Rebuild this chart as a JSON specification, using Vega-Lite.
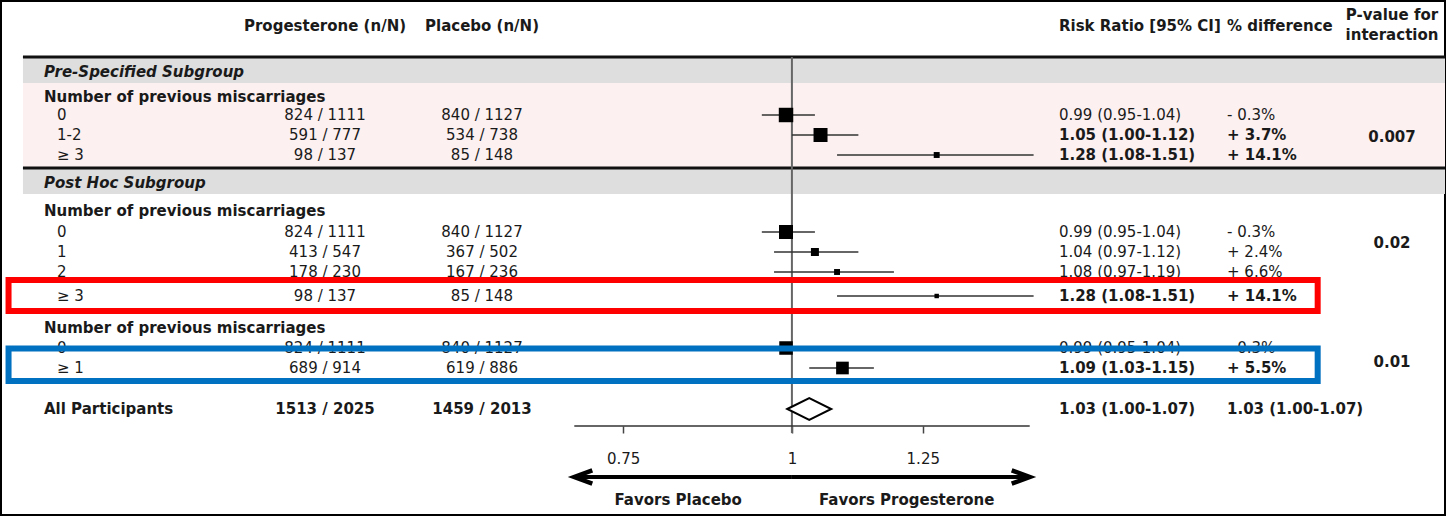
{
  "$schema": "https://vega.github.io/schema/vega-lite/v6.json",
  "width": 1449,
  "height": 516,
  "autosize": {"type": "fit", "contains": "padding"},
  "padding": {"left": 1, "top": 1, "right": 2, "bottom": 1},
  "background": "white",
  "config": {
    "view": {"stroke": "#000", "strokeWidth": 2},
    "text": {"font": "DejaVu Sans", "fontSize": 15, "color": "#1a1a1a", "baseline": "middle"}
  },
  "datasets": {
    "rows": [
      {"r": 1.25, "kind": "header", "label": "", "prog": "Progesterone (n/N)", "plac": "Placebo (n/N)", "ci": "Risk Ratio [95% CI]", "pct": "% difference"},
      {"r": 3.55, "kind": "section", "label": "Pre-Specified Subgroup"},
      {"r": 4.8, "kind": "group", "label": "Number of previous miscarriages"},
      {"r": 5.7, "kind": "item", "label": "0", "prog": "824 / 1111", "plac": "840 / 1127", "rr": 0.99, "lo": 0.95, "hi": 1.04, "ci": "0.99 (0.95-1.04)", "pct": "- 0.3%", "w": 95},
      {"r": 6.7, "kind": "item", "label": "1-2", "prog": "591 / 777", "plac": "534 / 738", "rr": 1.05, "lo": 1.0, "hi": 1.12, "ci": "1.05 (1.00-1.12)", "pct": "+ 3.7%", "w": 89},
      {"r": 7.7, "kind": "item", "label": "≥ 3", "prog": "98 / 137", "plac": "85 / 148", "rr": 1.28, "lo": 1.08, "hi": 1.51, "ci": "1.28 (1.08-1.51)", "pct": "+ 14.1%", "w": 16},
      {"r": 9.1, "kind": "section", "label": "Post Hoc Subgroup"},
      {"r": 10.5, "kind": "group", "label": "Number of previous miscarriages"},
      {"r": 11.55, "kind": "item", "label": "\u00a0\u00a00", "prog": "824 / 1111", "plac": "840 / 1127", "rr": 0.99, "lo": 0.95, "hi": 1.04, "ci": "0.99 (0.95-1.04)", "pct": "- 0.3%", "w": 89},
      {"r": 12.55, "kind": "item", "label": "\u00a0\u00a01", "prog": "413 / 547", "plac": "367 / 502", "rr": 1.04, "lo": 0.97, "hi": 1.12, "ci": "1.04 (0.97-1.12)", "pct": "+ 2.4%", "w": 29},
      {"r": 13.55, "kind": "item", "label": "\u00a0\u00a02", "prog": "178 / 230", "plac": "167 / 236", "rr": 1.08, "lo": 0.97, "hi": 1.19, "ci": "1.08 (0.97-1.19)", "pct": "+ 6.6%", "w": 16},
      {"r": 14.75, "kind": "item", "label": "≥ 3", "prog": "98 / 137", "plac": "85 / 148", "rr": 1.28, "lo": 1.08, "hi": 1.51, "ci": "1.28 (1.08-1.51)", "pct": "+ 14.1%", "w": 9},
      {"r": 16.35, "kind": "group", "label": "Number of previous miscarriages"},
      {"r": 17.35, "kind": "item", "label": "\u00a0\u00a00", "prog": "824 / 1111", "plac": "840 / 1127", "rr": 0.99, "lo": 0.95, "hi": 1.04, "ci": "0.99 (0.95-1.04)", "pct": "- 0.3%", "w": 83},
      {"r": 18.35, "kind": "item", "label": "≥ 1", "prog": "689 / 914", "plac": "619 / 886", "rr": 1.09, "lo": 1.03, "hi": 1.15, "ci": "1.09 (1.03-1.15)", "pct": "+ 5.5%", "w": 73},
      {"r": 20.4, "kind": "total", "label": "All Participants", "prog": "1513 / 2025", "plac": "1459 / 2013", "rr": 1.03, "lo": 1.0, "hi": 1.07, "ci": "1.03 (1.00-1.07)", "pct": "1.03 (1.00-1.07)"}
    ],
    "pvals": [
      {"r": 0.7, "p": "P-value for\ninteraction"},
      {"r": 6.8, "p": "0.007"},
      {"r": 12.1, "p": "0.02"},
      {"r": 18.05, "p": "0.01"}
    ],
    "bands": [
      {"r1": 2.8, "r2": 4.1, "zone": "header"},
      {"r1": 4.1, "r2": 8.35, "zone": "pre"},
      {"r1": 8.35, "r2": 9.65, "zone": "header"}
    ],
    "hlines": [{"r": 2.8}, {"r": 8.35}],
    "arrows": [
      {"from": 1, "to": 0.69, "dir": "left", "label": "Favors Placebo", "r": 23.8},
      {"from": 1, "to": 1.5, "dir": "right", "label": "Favors Progesterone", "r": 23.8}
    ],
    "boxes": [
      {"r1": 13.95, "r2": 15.5, "box": "A"},
      {"r1": 17.375, "r2": 19.0, "box": "B"}
    ]
  },
  "layer": [
    {
      "data": {"name": "bands"},
      "mark": {"type": "rect"},
      "encoding": {
        "x": {"datum": 0.2695, "type": "quantitative", "scale": {"type": "log", "domain": [0.2596, 3.0453], "nice": false},
          "axis": {"values": [0.75, 1, 1.25], "format": "~g", "offset": -89, "domain": false, "grid": false, "ticks": true, "tickSize": 7, "tickColor": "#444", "tickWidth": 1.5, "labelFont": "DejaVu Sans", "labelFontSize": 15, "labelColor": "#1a1a1a", "labelPadding": 18, "title": null, "labelFlush": false, "labelOverlap": false}},
        "x2": {"datum": 3.0453},
        "y": {"field": "r1", "type": "quantitative", "scale": {"domain": [0, 25.7], "reverse": true, "nice": false, "zero": false}, "axis": null},
        "y2": {"field": "r2"},
        "fill": {"field": "zone", "type": "nominal", "scale": {"domain": ["header", "pre"], "range": ["#dedede", "#fcf0f0"]}, "legend": null}
      }
    },
    {
      "data": {"name": "hlines"},
      "mark": {"type": "rule", "color": "#111", "strokeWidth": 3},
      "encoding": {
        "x": {"datum": 0.2695, "type": "quantitative", "scale": {"type": "log", "domain": [0.2596, 3.0453], "nice": false}},
        "x2": {"datum": 3.0453},
        "y": {"field": "r", "type": "quantitative", "scale": {"domain": [0, 25.7], "reverse": true, "nice": false, "zero": false}, "axis": null}
      }
    },
    {
      "data": {"values": [{}]},
      "mark": {"type": "rule", "color": "#666", "strokeWidth": 2},
      "encoding": {
        "x": {"datum": 1, "type": "quantitative", "scale": {"type": "log", "domain": [0.2596, 3.0453], "nice": false}},
        "y": {"datum": 2.8, "type": "quantitative", "scale": {"domain": [0, 25.7], "reverse": true, "nice": false, "zero": false}, "axis": null},
        "y2": {"datum": 21.6}
      }
    },
    {
      "data": {"values": [{}]},
      "mark": {"type": "rule", "color": "#333", "strokeWidth": 1.5},
      "encoding": {
        "x": {"datum": 0.69, "type": "quantitative", "scale": {"type": "log", "domain": [0.2596, 3.0453], "nice": false}},
        "x2": {"datum": 1.5},
        "y": {"datum": 21.25, "type": "quantitative", "scale": {"domain": [0, 25.7], "reverse": true, "nice": false, "zero": false}, "axis": null}
      }
    },
    {
      "data": {"name": "rows"},
      "transform": [{"filter": "datum.kind == 'item'"}],
      "mark": {"type": "rule", "color": "#333", "strokeWidth": 1.5},
      "encoding": {
        "x": {"field": "lo", "type": "quantitative", "scale": {"type": "log", "domain": [0.2596, 3.0453], "nice": false}},
        "x2": {"field": "hi"},
        "y": {"field": "r", "type": "quantitative", "scale": {"domain": [0, 25.7], "reverse": true, "nice": false, "zero": false}, "axis": null}
      }
    },
    {
      "data": {"name": "rows"},
      "transform": [{"filter": "datum.kind == 'item'"}],
      "mark": {"type": "point", "shape": "square", "filled": true, "color": "#000", "opacity": 1},
      "encoding": {
        "x": {"field": "rr", "type": "quantitative", "scale": {"type": "log", "domain": [0.2596, 3.0453], "nice": false}},
        "y": {"field": "r", "type": "quantitative", "scale": {"domain": [0, 25.7], "reverse": true, "nice": false, "zero": false}, "axis": null},
        "size": {"field": "w", "type": "quantitative", "scale": {"domain": [0, 100], "range": [0, 220]}, "legend": null}
      }
    },
    {
      "data": {"name": "rows"},
      "transform": [{"filter": "datum.kind == 'total'"}],
      "mark": {"type": "point", "shape": "M-1,0L0,-0.5L1,0L0,0.5Z", "size": 1936, "filled": true, "fill": "#fff", "stroke": "#000", "strokeWidth": 2, "opacity": 1},
      "encoding": {
        "x": {"field": "rr", "type": "quantitative", "scale": {"type": "log", "domain": [0.2596, 3.0453], "nice": false}},
        "y": {"field": "r", "type": "quantitative", "scale": {"domain": [0, 25.7], "reverse": true, "nice": false, "zero": false}, "axis": null}
      }
    },
    {
      "data": {"name": "arrows"},
      "mark": {"type": "rule", "color": "#000", "strokeWidth": 4},
      "encoding": {
        "x": {"field": "from", "type": "quantitative", "scale": {"type": "log", "domain": [0.2596, 3.0453], "nice": false}},
        "x2": {"field": "to"},
        "y": {"field": "r", "type": "quantitative", "scale": {"domain": [0, 25.7], "reverse": true, "nice": false, "zero": false}, "axis": null}
      }
    },
    {
      "data": {"name": "arrows"},
      "mark": {"type": "point", "filled": false, "size": 576, "color": "#000", "strokeWidth": 4.5, "opacity": 1, "strokeJoin": "miter"},
      "encoding": {
        "x": {"field": "to", "type": "quantitative", "scale": {"type": "log", "domain": [0.2596, 3.0453], "nice": false}},
        "y": {"field": "r", "type": "quantitative", "scale": {"domain": [0, 25.7], "reverse": true, "nice": false, "zero": false}, "axis": null},
        "shape": {"field": "dir", "type": "nominal", "scale": {"domain": ["left", "right"], "range": ["M1.5,-0.55L0,0L1.5,0.55", "M-1.5,-0.55L0,0L-1.5,0.55"]}, "legend": null}
      }
    },
    {
      "data": {"name": "arrows"},
      "transform": [{"filter": "datum.dir == 'left'"}],
      "mark": {"type": "text", "align": "right", "dx": -50, "fontWeight": "bold"},
      "encoding": {
        "x": {"field": "from", "type": "quantitative", "scale": {"type": "log", "domain": [0.2596, 3.0453], "nice": false}},
        "y": {"datum": 24.95, "type": "quantitative", "scale": {"domain": [0, 25.7], "reverse": true, "nice": false, "zero": false}, "axis": null},
        "text": {"field": "label"}
      }
    },
    {
      "data": {"name": "arrows"},
      "transform": [{"filter": "datum.dir == 'right'"}],
      "mark": {"type": "text", "align": "left", "dx": 27, "fontWeight": "bold"},
      "encoding": {
        "x": {"field": "from", "type": "quantitative", "scale": {"type": "log", "domain": [0.2596, 3.0453], "nice": false}},
        "y": {"datum": 24.95, "type": "quantitative", "scale": {"domain": [0, 25.7], "reverse": true, "nice": false, "zero": false}, "axis": null},
        "text": {"field": "label"}
      }
    },
    {
      "data": {"name": "rows"},
      "transform": [{"filter": "datum.kind == 'section'"}],
      "mark": {"type": "text", "align": "left", "x": 43, "fontWeight": "bold", "fontStyle": "italic"},
      "encoding": {
        "y": {"field": "r", "type": "quantitative", "scale": {"domain": [0, 25.7], "reverse": true, "nice": false, "zero": false}, "axis": null},
        "text": {"field": "label"}
      }
    },
    {
      "data": {"name": "rows"},
      "transform": [{"filter": "datum.kind == 'group' || datum.kind == 'total'"}],
      "mark": {"type": "text", "align": "left", "x": 43, "fontWeight": "bold"},
      "encoding": {
        "y": {"field": "r", "type": "quantitative", "scale": {"domain": [0, 25.7], "reverse": true, "nice": false, "zero": false}, "axis": null},
        "text": {"field": "label"}
      }
    },
    {
      "data": {"name": "rows"},
      "transform": [{"filter": "datum.kind == 'item'"}],
      "mark": {"type": "text", "align": "left", "x": 56},
      "encoding": {
        "y": {"field": "r", "type": "quantitative", "scale": {"domain": [0, 25.7], "reverse": true, "nice": false, "zero": false}, "axis": null},
        "text": {"field": "label"}
      }
    },
    {
      "data": {"name": "rows"},
      "transform": [{"filter": "datum.kind == 'header' || datum.kind == 'total'"}],
      "mark": {"type": "text", "align": "center", "x": 324, "fontWeight": "bold"},
      "encoding": {
        "y": {"field": "r", "type": "quantitative", "scale": {"domain": [0, 25.7], "reverse": true, "nice": false, "zero": false}, "axis": null},
        "text": {"field": "prog"}
      }
    },
    {
      "data": {"name": "rows"},
      "transform": [{"filter": "datum.kind == 'item'"}],
      "mark": {"type": "text", "align": "center", "x": 324},
      "encoding": {
        "y": {"field": "r", "type": "quantitative", "scale": {"domain": [0, 25.7], "reverse": true, "nice": false, "zero": false}, "axis": null},
        "text": {"field": "prog"}
      }
    },
    {
      "data": {"name": "rows"},
      "transform": [{"filter": "datum.kind == 'header' || datum.kind == 'total'"}],
      "mark": {"type": "text", "align": "center", "x": 481, "fontWeight": "bold"},
      "encoding": {
        "y": {"field": "r", "type": "quantitative", "scale": {"domain": [0, 25.7], "reverse": true, "nice": false, "zero": false}, "axis": null},
        "text": {"field": "plac"}
      }
    },
    {
      "data": {"name": "rows"},
      "transform": [{"filter": "datum.kind == 'item'"}],
      "mark": {"type": "text", "align": "center", "x": 481},
      "encoding": {
        "y": {"field": "r", "type": "quantitative", "scale": {"domain": [0, 25.7], "reverse": true, "nice": false, "zero": false}, "axis": null},
        "text": {"field": "plac"}
      }
    },
    {
      "data": {"name": "rows"},
      "transform": [{"filter": "datum.kind == 'header' || datum.kind == 'total' || (datum.kind == 'item' && datum.lo >= 1)"}],
      "mark": {"type": "text", "align": "left", "x": 1058, "fontWeight": "bold"},
      "encoding": {
        "y": {"field": "r", "type": "quantitative", "scale": {"domain": [0, 25.7], "reverse": true, "nice": false, "zero": false}, "axis": null},
        "text": {"field": "ci"}
      }
    },
    {
      "data": {"name": "rows"},
      "transform": [{"filter": "datum.kind == 'item' && datum.lo < 1"}],
      "mark": {"type": "text", "align": "left", "x": 1058},
      "encoding": {
        "y": {"field": "r", "type": "quantitative", "scale": {"domain": [0, 25.7], "reverse": true, "nice": false, "zero": false}, "axis": null},
        "text": {"field": "ci"}
      }
    },
    {
      "data": {"name": "rows"},
      "transform": [{"filter": "datum.kind == 'header' || datum.kind == 'total' || (datum.kind == 'item' && datum.lo >= 1)"}],
      "mark": {"type": "text", "align": "left", "x": 1226, "fontWeight": "bold"},
      "encoding": {
        "y": {"field": "r", "type": "quantitative", "scale": {"domain": [0, 25.7], "reverse": true, "nice": false, "zero": false}, "axis": null},
        "text": {"field": "pct"}
      }
    },
    {
      "data": {"name": "rows"},
      "transform": [{"filter": "datum.kind == 'item' && datum.lo < 1"}],
      "mark": {"type": "text", "align": "left", "x": 1226},
      "encoding": {
        "y": {"field": "r", "type": "quantitative", "scale": {"domain": [0, 25.7], "reverse": true, "nice": false, "zero": false}, "axis": null},
        "text": {"field": "pct"}
      }
    },
    {
      "data": {"name": "pvals"},
      "mark": {"type": "text", "align": "center", "x": 1391, "fontWeight": "bold", "lineBreak": "\n", "lineHeight": 20},
      "encoding": {
        "y": {"field": "r", "type": "quantitative", "scale": {"domain": [0, 25.7], "reverse": true, "nice": false, "zero": false}, "axis": null},
        "text": {"field": "p"}
      }
    },
    {
      "data": {"name": "boxes"},
      "mark": {"type": "rect", "filled": false, "strokeWidth": 6, "opacity": 1},
      "encoding": {
        "x": {"datum": 0.26296, "type": "quantitative", "scale": {"type": "log", "domain": [0.2596, 3.0453], "nice": false}},
        "x2": {"datum": 2.451},
        "y": {"field": "r1", "type": "quantitative", "scale": {"domain": [0, 25.7], "reverse": true, "nice": false, "zero": false}, "axis": null},
        "y2": {"field": "r2"},
        "stroke": {"field": "box", "type": "nominal", "scale": {"domain": ["A", "B"], "range": ["#ff0000", "#0070c0"]}, "legend": null}
      }
    }
  ]
}
